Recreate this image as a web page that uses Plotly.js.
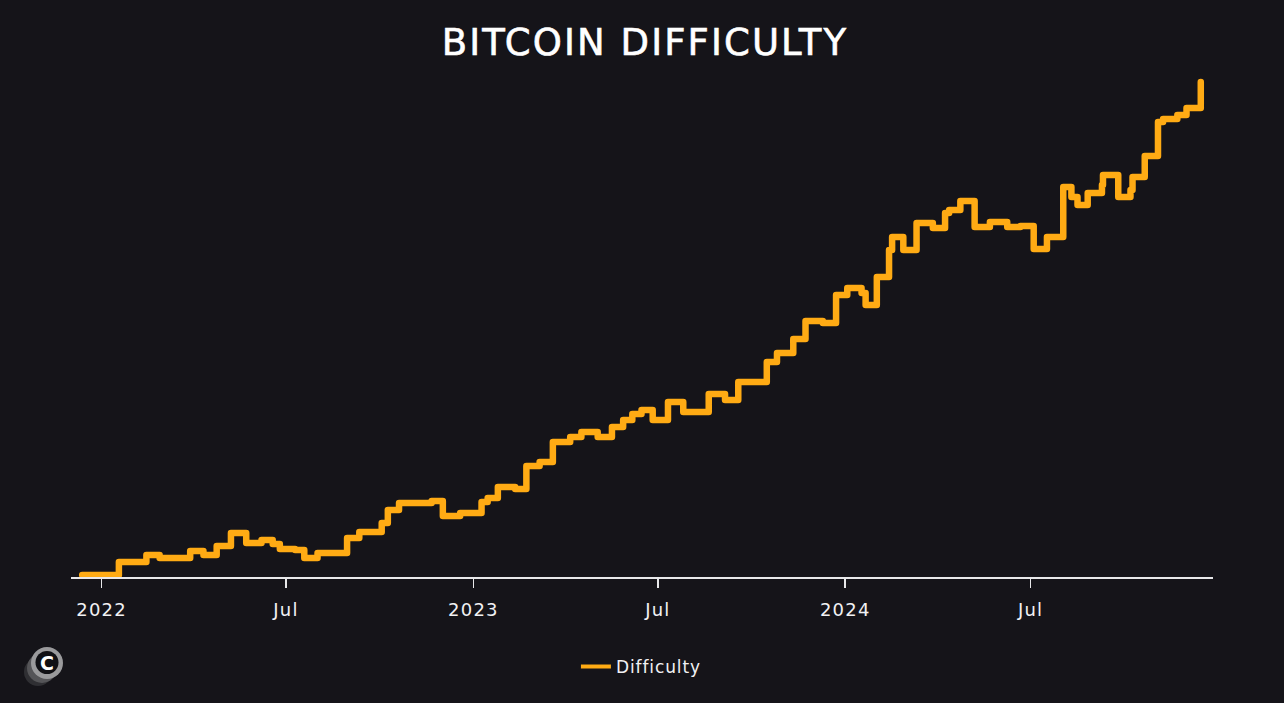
<!DOCTYPE html>
<html><head><meta charset="utf-8">
<script src="https://cdn.plot.ly/plotly-3.0.1.min.js"></script>
<style>html,body{margin:0;padding:0;background:#151419;overflow:hidden}
.scatterlayer .js-line{stroke-linejoin:round;stroke-linecap:round}
.legend .js-line{stroke-width:4px !important}
.gtitle{stroke:#ffffff;stroke-width:0.6px;letter-spacing:2.1px}
.xtick text{letter-spacing:1.2px}
.legendtext{letter-spacing:0.9px}
</style>
</head><body><div id="chart" style="width:1284px;height:703px"></div>
<script>
const seriesName = "Difficulty";
const titleText = "BITCOIN DIFFICULTY";
const tickDates = ["2022-01-01","2022-07-01","2023-01-01","2023-07-01","2024-01-01","2024-07-01"];
const tickLabels = ["2022","Jul","2023","Jul","2024","Jul"];
const dates = ["2021-12-13","2022-01-18","2022-02-14","2022-02-27","2022-03-29","2022-04-11","2022-04-24","2022-05-08","2022-05-23","2022-06-07","2022-06-18","2022-06-25","2022-07-10","2022-07-19","2022-08-01","2022-08-30","2022-09-11","2022-10-03","2022-10-09","2022-10-20","2022-11-21","2022-12-02","2022-12-19","2023-01-09","2023-01-15","2023-01-25","2023-02-11","2023-02-22","2023-03-07","2023-03-20","2023-04-06","2023-04-17","2023-05-03","2023-05-17","2023-05-28","2023-06-06","2023-06-15","2023-06-26","2023-07-11","2023-07-26","2023-08-20","2023-09-05","2023-09-18","2023-10-16","2023-10-26","2023-11-11","2023-11-23","2023-12-10","2023-12-23","2024-01-03","2024-01-17","2024-01-21","2024-02-01","2024-02-13","2024-02-16","2024-02-27","2024-03-11","2024-03-27","2024-04-08","2024-04-12","2024-04-23","2024-05-07","2024-05-22","2024-06-08","2024-06-21","2024-07-04","2024-07-17","2024-08-02","2024-08-10","2024-08-16","2024-08-26","2024-09-09","2024-09-10","2024-09-25","2024-10-07","2024-10-09","2024-10-21","2024-11-03","2024-11-08","2024-11-22","2024-12-01","2024-12-15"];
const difficulty = [24.27,26.52,27.73,27.21,28.42,27.73,29.29,31.54,29.81,30.33,29.63,28.77,28.6,27.21,28.08,30.67,31.71,33.27,35.52,36.73,37.07,34.48,35.0,36.9,37.6,39.5,39.15,43.13,43.82,47.28,48.15,49.01,48.15,49.88,51.09,52.13,52.82,51.09,54.2,52.47,55.59,54.55,57.66,61.12,62.68,65.1,68.21,67.87,72.71,73.92,73.06,71.0,75.83,80.5,82.75,80.5,85.17,84.3,86.9,87.4,88.98,84.48,85.34,84.48,84.65,80.67,82.75,91.4,89.67,88.28,90.36,91.74,93.47,89.67,90.88,93.13,96.76,102.65,103.16,103.86,105.07,109.56];
const bg = "#151419", fg = "#f1f1f3", orange = "#ffab14", font = "'DejaVu Sans', sans-serif";

function disc(x0, x1, y0, y1, color) {
  return {type:"circle", xref:"paper", yref:"paper", x0, x1, y0, y1, fillcolor:color, line:{width:0}};
}

Plotly.newPlot("chart", [{
  type: "scatter", mode: "lines", name: seriesName, x: dates, y: difficulty,
  line: {shape: "hv", color: orange, width: 6.5}
}], {
  width: 1284, height: 703, paper_bgcolor: bg, plot_bgcolor: bg,
  margin: {l: 71, r: 71, t: 60, b: 126},
  font: {family: font, color: fg},
  title: {text: titleText, x: 0.5023, xanchor: "center", y: 0.94, yanchor: "middle",
          font: {family: font, size: 37, color: "#ffffff"}},
  xaxis: {type: "date", range: ["2021-12-02","2024-12-27"], tickmode: "array",
          tickvals: tickDates, ticktext: tickLabels, showgrid: false, zeroline: false,
          showline: true, linecolor: "#e8e8ea", linewidth: 1.5,
          ticks: "outside", ticklen: 9, tickwidth: 1.5, tickcolor: "#e8e8ea",
          ticklabelstandoff: 7,
          tickfont: {family: font, size: 18, color: fg}},
  yaxis: {range: [23.92, 113.37], visible: false, showgrid: false, zeroline: false},
  showlegend: true,
  legend: {orientation: "h", x: 0.4995, xanchor: "center", y: -0.174, yanchor: "middle",
           font: {family: font, size: 17, color: fg}, bgcolor: "rgba(0,0,0,0)"},
  shapes: [
    disc(-0.04116,-0.01664,-0.21083,-0.15667,"#2f2f33"),
    disc(-0.03853,-0.01226,-0.205,-0.147,"#555558"),
    disc(-0.03503,-0.00701,-0.19729,-0.1354,"#9a9a9c"),
    disc(-0.03109,-0.01095,-0.18762,-0.14313,"#101014")
  ],
  annotations: [{xref:"paper",yref:"paper",x:-0.02102,y:-0.16634,xanchor:"center",yanchor:"middle",
    text:"C",showarrow:false,font:{family:font,size:19,color:"#ffffff",weight:700}}]
}, {displayModeBar: false, staticPlot: true});
</script></body></html>
